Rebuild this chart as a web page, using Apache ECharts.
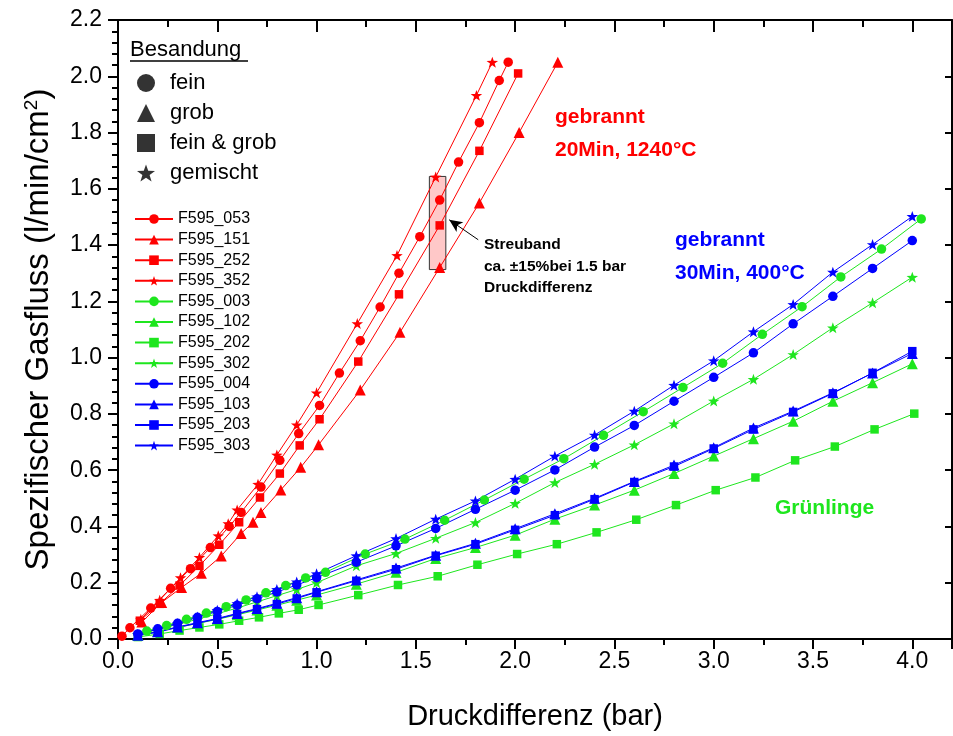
<!DOCTYPE html>
<html>
<head>
<meta charset="utf-8">
<script src="https://cdn.jsdelivr.net/npm/echarts@6/dist/echarts.min.js"></script>
<style>
html,body{margin:0;padding:0;background:#fff;}
#chart{width:953px;height:736px;}
</style>
</head>
<body>
<div id="chart"></div>
<script>
// ---------- data ----------
const seriesNames = ['F595_053','F595_151','F595_252','F595_352','F595_003','F595_102','F595_202','F595_302','F595_004','F595_103','F595_203','F595_303'];
const besandung = ['fein','grob','fein & grob','gemischt'];

// red: gebrannt 20Min, 1240°C
const x053 = [0.02,0.06,0.165,0.265,0.365,0.465,0.56,0.62,0.72,0.815,0.91,1.015,1.115,1.22,1.32,1.415,1.52,1.62,1.715,1.82,1.92,1.965];
const y053 = [0.01,0.04,0.11,0.18,0.25,0.325,0.40,0.45,0.54,0.635,0.73,0.83,0.945,1.06,1.18,1.30,1.43,1.56,1.695,1.835,1.985,2.05];
const x151 = [0.12,0.22,0.32,0.42,0.52,0.62,0.68,0.72,0.82,0.92,1.01,1.22,1.42,1.62,1.82,2.02,2.215];
const y151 = [0.06,0.13,0.183,0.234,0.295,0.375,0.415,0.45,0.53,0.61,0.69,0.885,1.09,1.32,1.55,1.80,2.05];
const x252 = [0.11,0.21,0.31,0.41,0.51,0.61,0.715,0.815,0.915,1.015,1.21,1.415,1.62,1.82,2.015];
const y252 = [0.065,0.125,0.19,0.26,0.335,0.415,0.503,0.588,0.688,0.781,0.986,1.225,1.47,1.735,2.01];
const x352 = [0.115,0.21,0.315,0.41,0.505,0.555,0.60,0.705,0.80,0.90,1.00,1.205,1.405,1.60,1.805,1.885];
const y352 = [0.07,0.138,0.218,0.29,0.367,0.41,0.459,0.55,0.654,0.761,0.875,1.121,1.363,1.642,1.932,2.05];

// green: Grünlinge
const x003 = [0.145,0.245,0.345,0.445,0.545,0.645,0.745,0.845,0.945,1.045,1.245,1.445,1.645,1.845,2.045,2.245,2.445,2.645,2.845,3.045,3.245,3.445,3.64,3.845,4.045];
const y003 = [0.028,0.048,0.07,0.092,0.115,0.139,0.164,0.19,0.217,0.237,0.302,0.355,0.422,0.494,0.568,0.641,0.724,0.808,0.894,0.980,1.083,1.181,1.287,1.386,1.493];
const x102 = [0.1,0.2,0.3,0.4,0.5,0.6,0.7,0.8,0.9,1.0,1.2,1.4,1.6,1.8,2.0,2.2,2.4,2.6,2.8,3.0,3.2,3.4,3.6,3.8,4.0];
const y102 = [0.013,0.027,0.041,0.055,0.07,0.086,0.103,0.12,0.138,0.156,0.195,0.237,0.286,0.325,0.369,0.426,0.476,0.529,0.588,0.650,0.712,0.774,0.845,0.911,0.978];
const x202 = [0.1,0.21,0.31,0.41,0.51,0.61,0.71,0.81,0.91,1.01,1.21,1.41,1.61,1.81,2.01,2.21,2.41,2.61,2.81,3.01,3.21,3.41,3.61,3.81,4.01];
const y202 = [0.007,0.018,0.030,0.041,0.052,0.065,0.077,0.091,0.104,0.121,0.156,0.192,0.223,0.264,0.302,0.337,0.379,0.424,0.476,0.529,0.574,0.635,0.684,0.745,0.801];
const x302 = [0.1,0.2,0.3,0.4,0.5,0.6,0.7,0.8,0.9,1.0,1.2,1.4,1.6,1.8,2.0,2.2,2.4,2.6,2.8,3.0,3.2,3.4,3.6,3.8,4.0];
const y302 = [0.016,0.034,0.052,0.07,0.09,0.11,0.132,0.154,0.176,0.2,0.26,0.304,0.358,0.414,0.482,0.556,0.621,0.690,0.765,0.846,0.923,1.011,1.106,1.195,1.286];

// blue: gebrannt 30Min, 400°C
const x004 = [0.1,0.2,0.3,0.4,0.5,0.6,0.7,0.8,0.9,1.0,1.2,1.4,1.6,1.8,2.0,2.2,2.4,2.6,2.8,3.0,3.2,3.4,3.6,3.8,4.0];
const y004 = [0.018,0.036,0.056,0.077,0.098,0.12,0.143,0.167,0.192,0.218,0.273,0.331,0.393,0.461,0.529,0.601,0.682,0.759,0.845,0.930,1.017,1.120,1.218,1.317,1.416];
const x103 = [0.1,0.2,0.3,0.4,0.5,0.6,0.7,0.8,0.9,1.0,1.2,1.4,1.6,1.8,2.0,2.2,2.4,2.6,2.8,3.0,3.2,3.4,3.6,3.8,4.0];
const y103 = [0.013,0.026,0.043,0.058,0.073,0.091,0.108,0.127,0.147,0.168,0.21,0.252,0.298,0.34,0.392,0.445,0.50,0.56,0.618,0.68,0.75,0.81,0.875,0.945,1.015];
const x203 = [0.1,0.2,0.3,0.4,0.5,0.6,0.7,0.8,0.9,1.0,1.2,1.4,1.6,1.8,2.0,2.2,2.4,2.6,2.8,3.0,3.2,3.4,3.6,3.8,4.0];
const y203 = [0.012,0.024,0.041,0.056,0.071,0.089,0.106,0.124,0.144,0.166,0.207,0.248,0.296,0.337,0.388,0.440,0.497,0.558,0.613,0.677,0.745,0.807,0.873,0.946,1.023];
const x303 = [0.1,0.2,0.3,0.4,0.5,0.6,0.7,0.8,0.9,1.0,1.2,1.4,1.6,1.8,2.0,2.2,2.4,2.6,2.8,3.0,3.2,3.4,3.6,3.8,4.0];
const y303 = [0.016,0.035,0.055,0.078,0.102,0.126,0.150,0.176,0.203,0.232,0.296,0.357,0.426,0.491,0.568,0.650,0.725,0.81,0.902,0.989,1.092,1.189,1.304,1.402,1.502];

// Streuband box [xMin, xMax, yMin, yMax] and arrow [xTail, yTail, xHead, yHead]
const streuband = [1.568, 1.651, 1.313, 1.644];
const arrow = [1.814, 1.419, 1.668, 1.490];

// axis settings
const xRange = [0, 4.2];
const yRange = [0, 2.2];

// ---------- styling ----------
const FONT = "'Liberation Sans', Arial, Helvetica, sans-serif";
const RED = '#ff0000', GREEN = '#1ee61e', BLUE = '#0000ff';
const STAR = 'path://M50 0 L61.76 33.82 L97.55 34.55 L69.02 56.18 L79.39 90.45 L50 70 L20.61 90.45 L30.98 56.18 L2.45 34.55 L38.24 33.82 Z';
const SYM = {circle:['circle',9.5], triangle:['triangle',11], rect:['rect',8.5], star:[STAR,11.5]};

function zip(xs, ys){ return xs.map((v,i)=>[v, ys[i]]); }
function mk(name, xs, ys, color, sym){
  return {
    name: name, type:'line', data: zip(xs, ys),
    symbol: SYM[sym][0], symbolSize: SYM[sym][1], symbolKeepAspect: true,
    showAllSymbol: true,
    lineStyle:{color: color, width:1},
    itemStyle:{color: color},
    emphasis:{disabled:true},
    z: 3
  };
}

const series = [
  mk('F595_053', x053, y053, RED, 'circle'),
  mk('F595_151', x151, y151, RED, 'triangle'),
  mk('F595_252', x252, y252, RED, 'rect'),
  mk('F595_352', x352, y352, RED, 'star'),
  mk('F595_003', x003, y003, GREEN, 'circle'),
  mk('F595_102', x102, y102, GREEN, 'triangle'),
  mk('F595_202', x202, y202, GREEN, 'rect'),
  mk('F595_302', x302, y302, GREEN, 'star'),
  mk('F595_004', x004, y004, BLUE, 'circle'),
  mk('F595_103', x103, y103, BLUE, 'triangle'),
  mk('F595_203', x203, y203, BLUE, 'rect'),
  mk('F595_303', x303, y303, BLUE, 'star')
];

// Streuband box and arrow
series[0].markArea = {
  silent:true, z:1,
  itemStyle:{color:'#ffc8c8', borderColor:'#333', borderWidth:1},
  label:{show:false},
  data:[[{coord:[streuband[0], streuband[2]]},{coord:[streuband[1], streuband[3]]}]]
};
series[0].markLine = {
  silent:true, symbol:['none','arrow'], symbolSize:[9,13],
  lineStyle:{color:'#000', width:1, type:'solid'},
  label:{show:false},
  data:[[{coord:[arrow[0], arrow[1]]},{coord:[arrow[2], arrow[3]]}]]
};

// dummy series for the "Besandung" symbol key
besandung.forEach(n => series.push({name:n, type:'scatter', data:[], itemStyle:{color:'#000'}}));

const axisLineStyle = {color:'#000', width:2};

const option = {
  animation:false,
  backgroundColor:'#fff',
  textStyle:{fontFamily:FONT},
  grid:{left:118, right:1, top:20, bottom:96, containLabel:false},
  xAxis:[
    {type:'value', position:'bottom', min:xRange[0], max:xRange[1], interval:0.5,
     axisLine:{onZero:false, lineStyle:axisLineStyle},
     axisTick:{show:true, inside:false, length:10, lineStyle:axisLineStyle},
     minorTick:{show:true, splitNumber:2, length:6, lineStyle:axisLineStyle},
     splitLine:{show:false}, minorSplitLine:{show:false},
     axisLabel:{fontSize:23, color:'#000', fontFamily:FONT, margin:11, showMaxLabel:false,
       formatter: v => v.toFixed(1)},
     name:'Druckdifferenz (bar)', nameLocation:'middle', nameGap:63,
     nameTextStyle:{fontSize:29, color:'#000', fontFamily:FONT}},
    {type:'value', position:'top', min:xRange[0], max:xRange[1], interval:0.5,
     axisLine:{onZero:false, lineStyle:axisLineStyle},
     axisTick:{show:true, inside:true, length:12, lineStyle:axisLineStyle},
     minorTick:{show:true, splitNumber:2, length:7, lineStyle:axisLineStyle},
     splitLine:{show:false}, axisLabel:{show:false}}
  ],
  yAxis:[
    {type:'value', position:'left', min:yRange[0], max:yRange[1], interval:0.2,
     axisLine:{onZero:false, lineStyle:axisLineStyle},
     axisTick:{show:true, inside:false, length:10, lineStyle:axisLineStyle},
     minorTick:{show:true, splitNumber:5, length:6, lineStyle:axisLineStyle},
     splitLine:{show:false}, minorSplitLine:{show:false},
     axisLabel:{fontSize:23, color:'#000', fontFamily:FONT, margin:16,
       formatter: v => v.toFixed(1)},
     name:'Spezifischer Gasfluss (l/min/cm{sup|2})', nameLocation:'middle', nameGap:63,
     nameTextStyle:{fontSize:33, color:'#000', fontFamily:FONT,
       rich:{sup:{fontSize:19, color:'#000', fontFamily:FONT, verticalAlign:'top', lineHeight:33}}}},
    {type:'value', position:'right', min:yRange[0], max:yRange[1], interval:0.2,
     axisLine:{onZero:false, lineStyle:axisLineStyle},
     axisTick:{show:true, inside:true, length:7, lineStyle:axisLineStyle},
     splitLine:{show:false}, axisLabel:{show:false}}
  ],
  legend:[
    {data: seriesNames, orient:'vertical', left:129, top:206,
     itemWidth:38, itemHeight:12, itemGap:4.6, selectedMode:false,
     textStyle:{fontSize:16, color:'#000', fontFamily:FONT, lineHeight:16}},
    {data: [{name:besandung[0], icon:'circle'},{name:besandung[1], icon:'triangle'},
            {name:besandung[2], icon:'rect'},{name:besandung[3], icon:STAR}],
     orient:'vertical', left:132, top:67, itemWidth:18, itemHeight:18, itemGap:8,
     selectedMode:false,
     textStyle:{fontSize:22, color:'#000', fontFamily:FONT, lineHeight:22, padding:[0,0,0,10]}}
  ],
  graphic:[
    {type:'text', x:130, y:50, style:{text:'Besandung', font:'22px '+FONT, fill:'#000', verticalAlign:'middle', textVerticalAlign:'middle'}},
    {type:'line', shape:{x1:130, y1:61, x2:248, y2:61}, style:{stroke:'#000', lineWidth:1.5}},
    {type:'text', x:555, y:117, style:{text:'gebrannt', font:'bold 21px '+FONT, fill:RED, verticalAlign:'middle', textVerticalAlign:'middle'}},
    {type:'text', x:555, y:150, style:{text:'20Min, 1240°C', font:'bold 21px '+FONT, fill:RED, verticalAlign:'middle', textVerticalAlign:'middle'}},
    {type:'text', x:675, y:240, style:{text:'gebrannt', font:'bold 21px '+FONT, fill:BLUE, verticalAlign:'middle', textVerticalAlign:'middle'}},
    {type:'text', x:675, y:273, style:{text:'30Min, 400°C', font:'bold 21px '+FONT, fill:BLUE, verticalAlign:'middle', textVerticalAlign:'middle'}},
    {type:'text', x:775, y:508, style:{text:'Grünlinge', font:'bold 21px '+FONT, fill:GREEN, verticalAlign:'middle', textVerticalAlign:'middle'}},
    {type:'text', x:484, y:245, style:{text:'Streuband', font:'bold 15.5px '+FONT, fill:'#000', verticalAlign:'middle', textVerticalAlign:'middle'}},
    {type:'text', x:484, y:267, style:{text:'ca. ±15%bei 1.5 bar', font:'bold 15.5px '+FONT, fill:'#000', verticalAlign:'middle', textVerticalAlign:'middle'}},
    {type:'text', x:484, y:288, style:{text:'Druckdifferenz', font:'bold 15.5px '+FONT, fill:'#000', verticalAlign:'middle', textVerticalAlign:'middle'}}
  ],
  series: series
};

const chart = echarts.init(document.getElementById('chart'), null, {renderer:'canvas'});
chart.setOption(option);
</script>
</body>
</html>
